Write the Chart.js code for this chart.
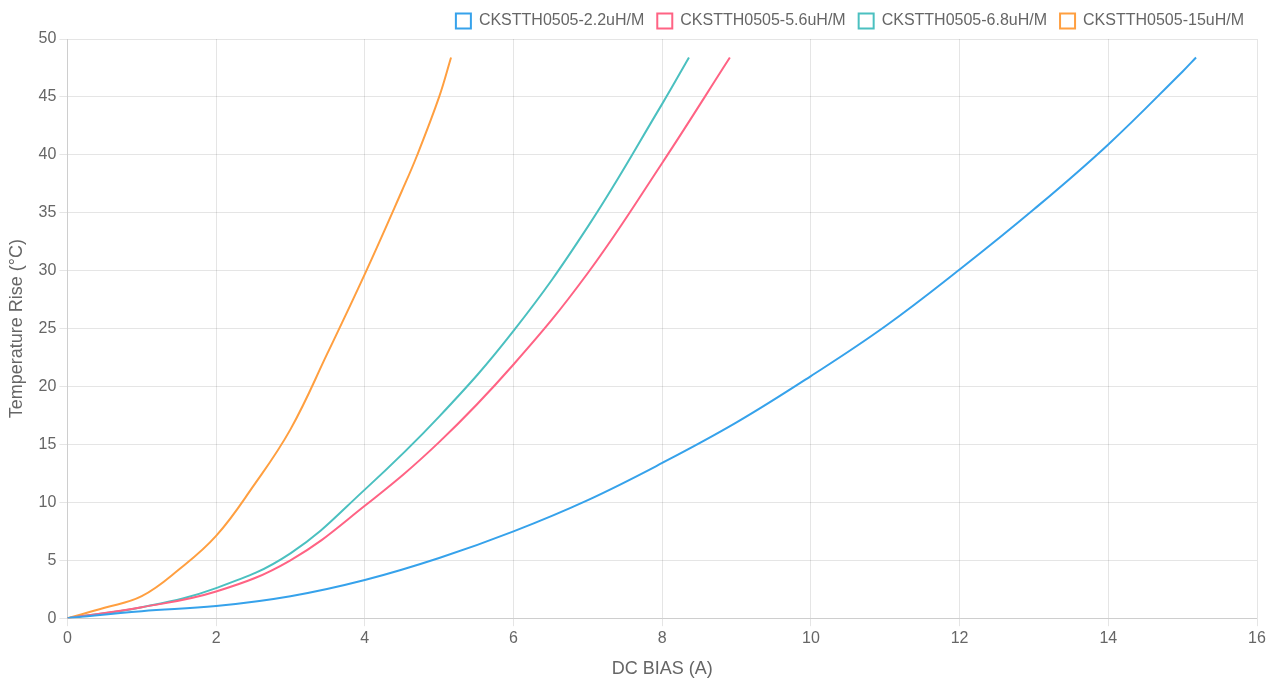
<!DOCTYPE html>
<html>
<head>
<meta charset="utf-8">
<script src="https://cdn.jsdelivr.net/npm/chart.js@4.4.0/dist/chart.umd.min.js"></script>
<style>
  html, body { margin: 0; padding: 0; background: #fff; }
  #wrap { width: 1277px; height: 681px; }
</style>
</head>
<body>
<div id="wrap"><canvas id="tempChart"></canvas></div>
<script>
// DC bias (A) vs temperature rise (°C)
var seriesNames = ['CKSTTH0505-2.2uH/M', 'CKSTTH0505-5.6uH/M', 'CKSTTH0505-6.8uH/M', 'CKSTTH0505-15uH/M'];

var biasA = [0, 1, 2, 3, 4, 5, 6, 7, 8, 9, 10, 11, 12, 13, 14, 15, 15.18];
var riseA = [0, 0.6, 1.05, 1.9, 3.3, 5.2, 7.5, 10.2, 13.4, 16.9, 20.9, 25.2, 30.1, 35.3, 40.9, 47.2, 48.4];

var biasB = [0, 1, 2, 3, 4, 5, 6, 7, 8, 8.91];
var riseB = [0, 0.95, 2.3, 5.0, 9.7, 15.2, 21.9, 29.8, 39.3, 48.4];

var biasC = [0, 1, 2, 3, 4, 5, 6, 7, 8, 8.36];
var riseC = [0, 0.95, 2.6, 5.6, 11.1, 17.4, 24.8, 33.8, 44.4, 48.4];

var biasD = [0, 0.5, 1, 1.5, 2, 2.5, 3, 3.5, 4, 4.5, 4.7, 5.0, 5.16];
var riseD = [0, 0.9, 1.9, 4.2, 7.1, 11.4, 16.3, 22.9, 29.7, 36.9, 39.9, 45.0, 48.4];

var colors = ['rgb(54, 162, 235)', 'rgb(255, 99, 132)', 'rgb(75, 192, 192)', 'rgb(255, 159, 64)'];

function toPoints(xs, ys) {
    var pts = [];
    for (var i = 0; i < xs.length; i++) {
        pts.push({ x: xs[i], y: ys[i] });
    }
    return pts;
}

var allX = [biasA, biasB, biasC, biasD];
var allY = [riseA, riseB, riseC, riseD];

var datasets = [];
for (var i = 0; i < seriesNames.length; i++) {
    datasets.push({
        label: seriesNames[i],
        data: toPoints(allX[i], allY[i]),
        borderColor: colors[i],
        backgroundColor: 'rgba(255, 255, 255, 0)',
        borderWidth: 2,
        pointRadius: 0,
        tension: 0.4,
        fill: false
    });
}

Chart.defaults.font.family = "'Liberation Sans', Arial, sans-serif";
Chart.defaults.color = '#666';

var ctx = document.getElementById('tempChart').getContext('2d');
var chart = new Chart(ctx, {
    type: 'line',
    data: { datasets: datasets },
    options: {
        responsive: true,
        maintainAspectRatio: false,
        animation: false,
        layout: { padding: { right: 20 } },
        plugins: {
            legend: {
                position: 'top',
                align: 'end',
                labels: {
                    boxWidth: 15,
                    boxHeight: 15,
                    padding: 13,
                    font: { size: 16 }
                }
            },
            tooltip: { enabled: false }
        },
        scales: {
            x: {
                type: 'linear',
                min: 0,
                max: 16,
                ticks: { stepSize: 2, font: { size: 16 } },
                title: { display: true, text: 'DC BIAS (A)', font: { size: 18 }, padding: { top: 7, bottom: 1 } }
            },
            y: {
                min: 0,
                max: 50,
                ticks: { stepSize: 5, font: { size: 16 } },
                title: { display: true, text: 'Temperature Rise (°C)', font: { size: 18 }, padding: { top: 6, bottom: 8 } }
            }
        }
    }
});
</script>
</body>
</html>
